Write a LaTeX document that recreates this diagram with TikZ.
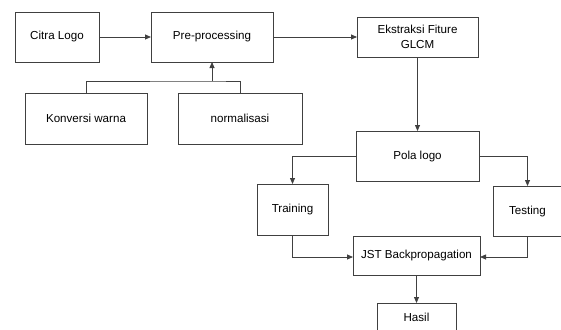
\documentclass[tikz,border=0pt]{standalone}
\usepackage{fontspec}
\setmainfont{Liberation Sans}
\usetikzlibrary{arrows.meta}
\begin{document}
\begin{tikzpicture}[x=1pt,y=-1pt,
  box/.style={draw=black!75,line width=0.8pt,rectangle,outer sep=0pt,inner sep=1pt,align=center,font=\fontsize{11.6}{15}\selectfont},
  conn/.style={draw=black!75,line width=0.8pt},
  arr/.style={conn,-{Triangle[length=6pt,width=5pt]}}]
\path[use as bounding box] (0,0) rectangle (561,329);
\clip (0,0) rectangle (561,329);
\fill[white] (0,0) rectangle (561,329);
\node[box,minimum width=84pt,minimum height=50pt] (citra) at (57,37) {Citra Logo};
\node[box,minimum width=122pt,minimum height=50pt] (pre) at (212,37) {Pre-processing};
\node[box,minimum width=121pt,minimum height=40pt] (eks) at (417.5,37) {Ekstraksi Fiture\\GLCM};
\node[box,minimum width=122pt,minimum height=51pt] (konv) at (86,118.5) {Konversi warna};
\node[box,minimum width=124pt,minimum height=51pt] (norm) at (240,118.5) {normalisasi};
\node[box,minimum width=123pt,minimum height=50pt] (pola) at (417.5,156) {Pola logo};
\node[box,minimum width=71pt,minimum height=51pt] (train) at (292.5,209.5) {Training};
\node[box,minimum width=69pt,minimum height=50pt] (test) at (527.5,211) {Testing};
\node[box,minimum width=127pt,minimum height=39pt] (jst) at (416.5,255.5) {JST Backpropagation};
\node[box,minimum width=79pt,minimum height=29pt] (hasil) at (416.5,317.5) {Hasil};
\coordinate (j) at (212,81);
\draw[arr] (citra.east) -- (pre.west);
\draw[arr] (pre.east) -- (eks.west);
\draw[arr] (eks.south) -- (pola.north);
\draw[conn] (konv.north) |- (j) -| (norm.north);
\draw[arr] (j) -- (pre.south);
\draw[arr] (pola.west) -| (train.north);
\draw[arr] (pola.east) -| (test.north);
\draw[arr] (train.south) |- ([yshift=-1.5pt]jst.west);
\draw[arr] (test.south) |- ([yshift=-1.5pt]jst.east);
\draw[arr] (jst.south) -- (hasil.north);
\end{tikzpicture}
\end{document}
